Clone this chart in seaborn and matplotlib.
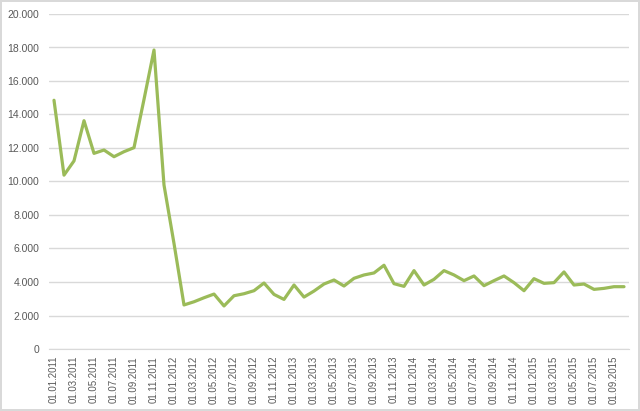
import matplotlib
matplotlib.use('Agg')
import matplotlib.pyplot as plt
import matplotlib.ticker as mticker
import seaborn as sns
import pandas as pd

# Monatswerte Jan 2011 - Okt 2015
months = pd.date_range('2011-01-01', '2015-10-01', freq='MS')
values = [14850, 10380, 11230, 13630, 11680, 11880, 11480, 11780, 12020, 14900, 17850, 9790,
          6300, 2630, 2820, 3060, 3280, 2570, 3180, 3300, 3480, 3940, 3260, 2960,
          3820, 3100, 3460, 3880, 4120, 3760, 4220, 4420, 4540, 5000, 3900, 3740,
          4680, 3820, 4160, 4680, 4420, 4080, 4360, 3780, 4080, 4360, 3960, 3480,
          4200, 3920, 3960, 4600, 3820, 3880, 3560, 3620, 3720, 3720]
labels = [d.strftime('%d.%m.%Y') for d in months]

df = pd.DataFrame({'idx': range(len(values)), 'wert': values})

sns.set_style('white')
plt.rcParams['font.family'] = ['Liberation Sans', 'DejaVu Sans']

fig = plt.figure(figsize=(6.4, 4.11), dpi=100)
fig.patch.set_edgecolor('#d9d9d9')
fig.patch.set_linewidth(1.5)
ax = fig.add_axes([49 / 640, 1 - 349 / 411, 580 / 640, 335 / 411])

sns.lineplot(data=df, x='idx', y='wert', color='#9bbb59', linewidth=2.3, ax=ax)

ax.set_xlim(-0.5, len(values) - 0.5)
ax.set_ylim(0, 20000)
ax.yaxis.set_major_locator(mticker.MultipleLocator(2000))
ax.yaxis.set_major_formatter(mticker.FuncFormatter(lambda v, p: f'{int(v):,}'.replace(',', '.')))
ax.set_xticks(range(0, len(values), 2))
ax.set_xticklabels(labels[::2], rotation=90)
ax.grid(axis='y', color='#d9d9d9', linewidth=1)
ax.set_axisbelow(True)
ax.set_xlabel('')
ax.set_ylabel('')
for s in ['top', 'right', 'left']:
    ax.spines[s].set_visible(False)
ax.spines['bottom'].set_color('#d9d9d9')
ax.tick_params(axis='y', length=0, labelsize=7.5, colors='#595959', pad=7)
ax.tick_params(axis='x', length=0, labelsize=7.0, colors='#595959', pad=5)

fig.savefig('out.png', dpi=100)
